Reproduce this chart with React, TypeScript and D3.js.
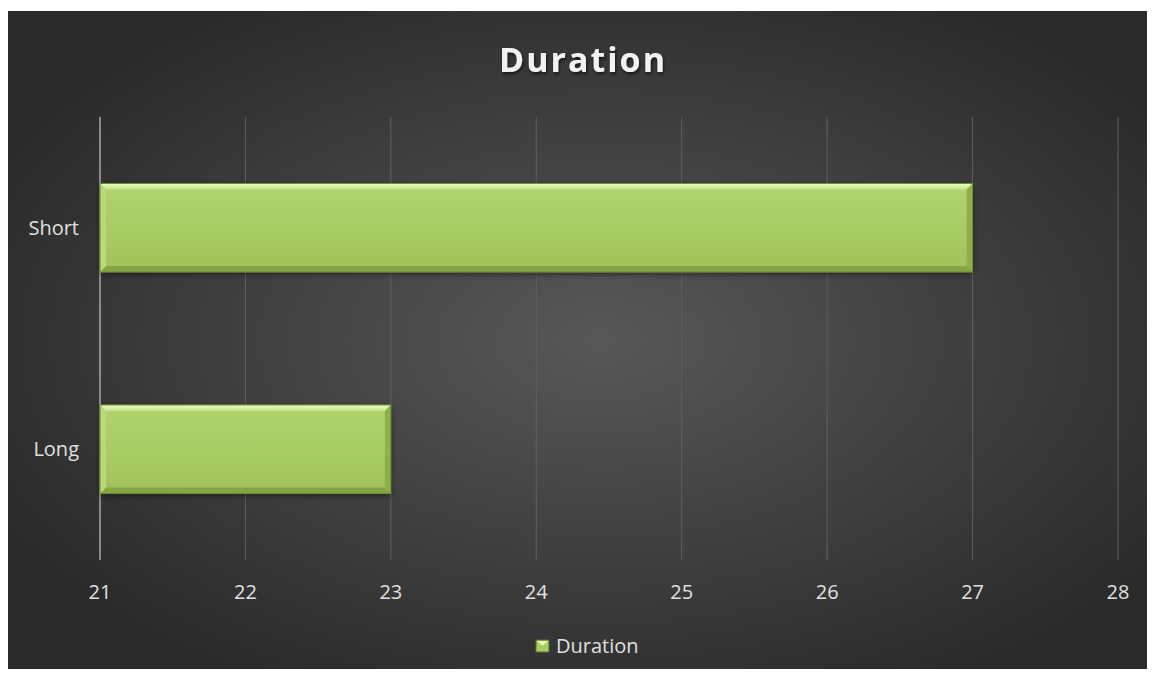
import React from "react";
import * as d3 from "d3";

const categories = ["Short", "Long"];
const durationValues = [27, 23];
const xTicks = [21, 22, 23, 24, 25, 26, 27, 28];
const seriesName = "Duration";
const chartTitle = "Duration";

export default function App() {
  const W = 1155, H = 679;
  const bg = { x: 8, y: 11, w: 1139, h: 658 };
  const plot = { left: 100, right: 1118, top: 117, bottom: 560 };
  const x = d3.scaleLinear().domain([21, 28]).range([plot.left, plot.right]);
  const y = d3.scaleBand().domain(categories).range([plot.top, plot.bottom]).paddingInner(0.6).paddingOuter(0.3);
  const bv = 6;
  const font = "'Open Sans', sans-serif";
  return (
    <svg width={W} height={H} style={{ position: "absolute", left: 0, top: 0 }}>
      <defs>
        <radialGradient id="bgGrad" cx="0.52" cy="0.5" r="0.6">
          <stop offset="0" stopColor="#585858" />
          <stop offset="1" stopColor="#2a2a2a" />
        </radialGradient>
        <linearGradient id="barGrad" x1="0" y1="0" x2="0" y2="1">
          <stop offset="0" stopColor="#b0d46e" />
          <stop offset="0.5" stopColor="#a9cd65" />
          <stop offset="1" stopColor="#9fc25a" />
        </linearGradient>
        <linearGradient id="topBev" x1="0" y1="0" x2="0" y2="1">
          <stop offset="0" stopColor="#eaffc0" />
          <stop offset="1" stopColor="#c4e48c" />
        </linearGradient>
        <filter id="shadow" x="-5%" y="-20%" width="110%" height="150%">
          <feDropShadow dx="0" dy="2" stdDeviation="3" floodColor="#000" floodOpacity="0.5" />
        </filter>
        <filter id="tshadow">
          <feDropShadow dx="1" dy="2" stdDeviation="1.5" floodColor="#000" floodOpacity="0.6" />
        </filter>
      </defs>
      <rect x={bg.x} y={bg.y} width={bg.w} height={bg.h} fill="url(#bgGrad)" />
      <text x={583} y={72} textAnchor="middle" fontFamily={font} fontWeight="bold" fontSize={34} letterSpacing={2} fill="#f2f2f2" filter="url(#tshadow)">
        {chartTitle}
      </text>
      {xTicks.map((t) => (
        <line key={t} x1={x(t)} x2={x(t)} y1={plot.top} y2={plot.bottom} stroke={t === 21 ? "#8a8a8a" : "#606060"} strokeWidth={t === 21 ? 2 : 1} />
      ))}
      {categories.map((c, i) => {
        const x0 = x(21), x1 = x(durationValues[i]);
        const y0 = y(c)!, h = y.bandwidth(), y1 = y0 + h;
        return (
          <g key={c}>
            <rect x={x0} y={y0} width={x1 - x0} height={h} fill="url(#barGrad)" filter="url(#shadow)" />
            <polygon points={`${x0},${y0} ${x1},${y0} ${x1 - bv},${y0 + bv} ${x0 + bv},${y0 + bv}`} fill="url(#topBev)" />
            <polygon points={`${x1},${y0} ${x1},${y1} ${x1 - bv},${y1 - bv} ${x1 - bv},${y0 + bv}`} fill="#8fb048" />
            <polygon points={`${x0},${y1} ${x1},${y1} ${x1 - bv},${y1 - bv} ${x0 + bv},${y1 - bv}`} fill="#86a444" />
            <polygon points={`${x0},${y0} ${x0 + bv},${y0 + bv} ${x0 + bv},${y1 - bv} ${x0},${y1}`} fill="#b8da7c" />
            <rect x={x0} y={y0} width={x1 - x0} height={h} fill="none" stroke="#6d8a34" strokeWidth={1} />
            <text x={79} y={y0 + h / 2 + 7} textAnchor="end" fontFamily={font} fontSize={20} fill="#e0e0e0">{c}</text>
          </g>
        );
      })}
      {xTicks.map((t) => (
        <text key={"l" + t} x={x(t)} y={599} textAnchor="middle" fontFamily={font} fontSize={20} fill="#e0e0e0">{t}</text>
      ))}
      <g>
        <rect x={536} y={640} width={13} height={12} fill="#a9cd65" stroke="#55702a" strokeWidth={1} />
        <polygon points="537,641 548,641 542.5,646" fill="#e4fab8" />
        <text x={556} y={653} fontFamily={font} fontSize={20} fill="#e0e0e0">{seriesName}</text>
      </g>
    </svg>
  );
}
